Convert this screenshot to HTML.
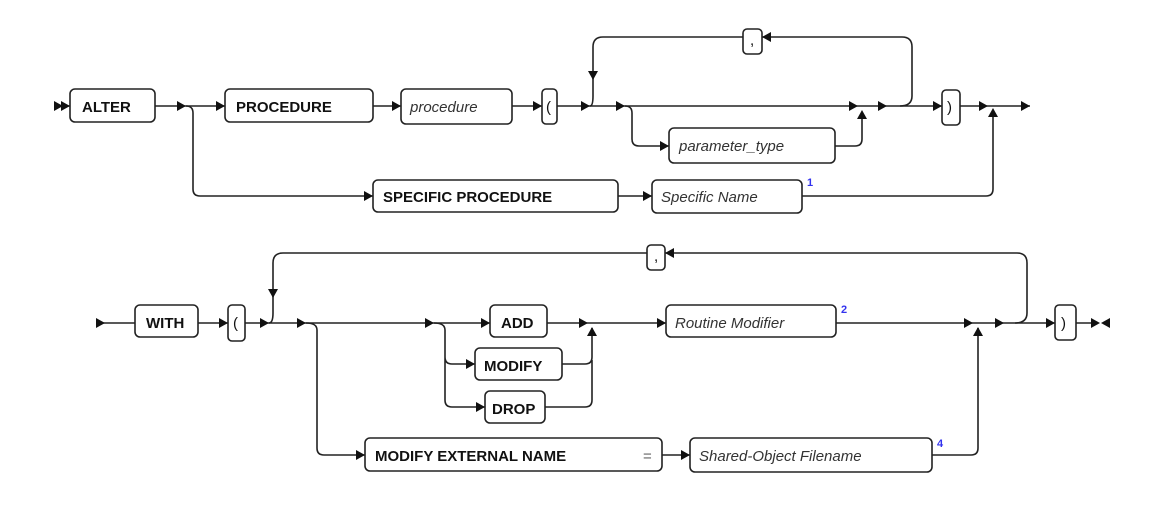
<!DOCTYPE html>
<html><head><meta charset="utf-8"><style>
html,body{margin:0;padding:0;background:#fff;}
svg{display:block;}
text{font-family:"Liberation Sans",sans-serif;font-size:15px;fill:#111;}
.b{font-weight:bold;}
.i{font-style:italic;fill:#333;}
.s{font-size:11px;fill:#3333ee;font-weight:bold;}
rect{fill:#fff;stroke:#222;stroke-width:1.6;}
path.l{fill:none;stroke:#222;stroke-width:1.6;}
</style></head><body>
<svg width="1150" height="508" viewBox="0 0 1150 508" xmlns="http://www.w3.org/2000/svg">
<defs>
<path id="ar" d="M-9,-5 L0,0 L-9,5 Z" fill="#111"/>
<path id="au" d="M-5,9 L0,0 L5,9 Z" fill="#111"/>
<path id="ad" d="M-5,-9 L0,0 L5,-9 Z" fill="#111"/>
<path id="al" d="M9,-5 L0,0 L9,5 Z" fill="#111"/>
</defs>

<!-- ROW 1 -->
<path class="l" d="M56,106 H70 M155,106 H225 M373,106 H401 M512,106 H542 M557,106 H862 M862,106 H942 M960,106 H1030"/>
<use href="#ar" x="63" y="106"/><use href="#ar" x="70" y="106"/>
<use href="#ar" x="186" y="106"/><use href="#ar" x="225" y="106"/>
<use href="#ar" x="401" y="106"/><use href="#ar" x="542" y="106"/>
<use href="#ar" x="590" y="106"/><use href="#ar" x="625" y="106"/>
<use href="#ar" x="858" y="106"/><use href="#ar" x="887" y="106"/>
<use href="#ar" x="942" y="106"/><use href="#ar" x="988" y="106"/>
<use href="#ar" x="1030" y="106"/>
<!-- specific branch -->
<path class="l" d="M186,106 Q193,106 193,113 V189 Q193,196 200,196 H373 M618,196 H652 M802,196 H986 Q993,196 993,189 V110"/>
<use href="#ar" x="373" y="196"/><use href="#ar" x="652" y="196"/>
<use href="#au" x="993" y="108"/>
<!-- param loop -->
<path class="l" d="M590,106 Q593,106 593,96 V47 Q593,37 603,37 H743 M762,37 H902 Q912,37 912,47 V96 Q912,106 900,106"/>
<use href="#ad" x="593" y="80"/><use href="#al" x="762" y="37"/>
<path class="l" d="M625,106 Q632,106 632,113 V139 Q632,146 639,146 H669 M835,146 H855 Q862,146 862,139 V112"/>
<use href="#ar" x="669" y="146"/><use href="#au" x="862" y="110"/>

<rect x="70" y="89" width="85" height="33" rx="5"/><text class="b" x="82" y="112">ALTER</text>
<rect x="225" y="89" width="148" height="33" rx="5"/><text class="b" x="236" y="112">PROCEDURE</text>
<rect x="401" y="89" width="111" height="35" rx="5"/><text class="i" x="410" y="112">procedure</text>
<rect x="542" y="89" width="15" height="35" rx="4"/><text x="546" y="112">(</text>
<rect x="743" y="29" width="19" height="25" rx="4"/><text x="750" y="45">,</text>
<rect x="669" y="128" width="166" height="35" rx="5"/><text class="i" x="679" y="151">parameter_type</text>
<rect x="942" y="90" width="18" height="35" rx="4"/><text x="947" y="112">)</text>
<rect x="373" y="180" width="245" height="32" rx="5"/><text class="b" x="383" y="202">SPECIFIC PROCEDURE</text>
<rect x="652" y="180" width="150" height="33" rx="5"/><text class="i" x="661" y="202">Specific Name</text>
<text class="s" x="807" y="186">1</text>

<!-- ROW 2 -->
<path class="l" d="M97,323 H135 M198,323 H228 M245,323 H490 M547,323 H666 M836,323 H1055 M1076,323 H1092"/>
<use href="#ar" x="105" y="323"/><use href="#ar" x="228" y="323"/>
<use href="#ar" x="269" y="323"/><use href="#ar" x="306" y="323"/>
<use href="#ar" x="434" y="323"/><use href="#ar" x="490" y="323"/>
<use href="#ar" x="588" y="323"/><use href="#ar" x="666" y="323"/>
<use href="#ar" x="973" y="323"/><use href="#ar" x="1004" y="323"/>
<use href="#ar" x="1055" y="323"/><use href="#ar" x="1100" y="323"/>
<use href="#al" x="1101" y="323"/>
<!-- loop -->
<path class="l" d="M269,323 Q273,323 273,313 V263 Q273,253 283,253 H647 M665,253 H1017 Q1027,253 1027,263 V313 Q1027,323 1015,323"/>
<use href="#ad" x="273" y="298"/><use href="#al" x="665" y="253"/>
<!-- choice ADD/MODIFY/DROP -->
<path class="l" d="M434,323 Q445,323 445,330 V400 Q445,407 452,407 H485 M445,357 Q445,364 452,364 H475 M562,364 H585 Q592,364 592,357 V328 M545,407 H585 Q592,407 592,400 V360"/>
<use href="#ar" x="475" y="364"/><use href="#ar" x="485" y="407"/>
<use href="#au" x="592" y="327"/>
<!-- external name -->
<path class="l" d="M306,323 Q317,323 317,330 V448 Q317,455 324,455 H365 M662,455 H690 M932,455 H971 Q978,455 978,448 V328"/>
<use href="#ar" x="365" y="455"/><use href="#ar" x="690" y="455"/>
<use href="#au" x="978" y="327"/>

<rect x="135" y="305" width="63" height="32" rx="5"/><text class="b" x="146" y="328">WITH</text>
<rect x="228" y="305" width="17" height="36" rx="4"/><text x="233" y="328">(</text>
<rect x="647" y="245" width="18" height="25" rx="4"/><text x="654" y="261">,</text>
<rect x="490" y="305" width="57" height="32" rx="5"/><text class="b" x="501" y="328">ADD</text>
<rect x="475" y="348" width="87" height="32" rx="5"/><text class="b" x="484" y="371">MODIFY</text>
<rect x="485" y="391" width="60" height="32" rx="5"/><text class="b" x="492" y="414">DROP</text>
<rect x="666" y="305" width="170" height="32" rx="5"/><text class="i" x="675" y="328">Routine Modifier</text>
<text class="s" x="841" y="313">2</text>
<rect x="1055" y="305" width="21" height="35" rx="4"/><text x="1061" y="328">)</text>
<rect x="365" y="438" width="297" height="33" rx="5"/><text class="b" x="375" y="461">MODIFY EXTERNAL NAME</text><text x="643" y="461" style="fill:#666">=</text>
<rect x="690" y="438" width="242" height="34" rx="5"/><text class="i" x="699" y="461">Shared-Object Filename</text>
<text class="s" x="937" y="447">4</text>
</svg>
</body></html>
